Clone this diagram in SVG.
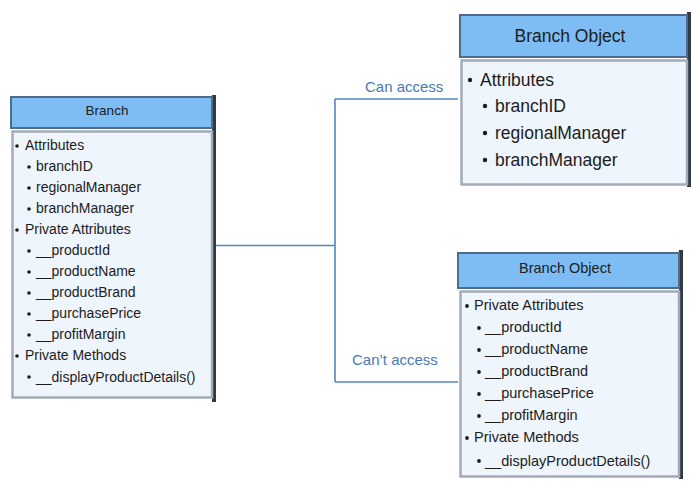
<svg xmlns="http://www.w3.org/2000/svg" width="700" height="496" viewBox="0 0 700 496">
<style>
.hd{fill:#7dbdf4;stroke:#506b8a;stroke-width:2}
.bd{fill:#eef5fc;stroke:#a3acb6;stroke-width:2.5}
.sh{fill:#2f3a45}
text{font-family:"Liberation Sans",Arial,sans-serif;fill:#1c1c1c}
.t{text-anchor:middle}
.lb{fill:#4a7ab5;font-size:15px}
.b{fill:#1c1c1c}
.c{fill:none;stroke:#4f86c6;stroke-width:1.6}
</style>
<rect width="700" height="496" fill="#ffffff"/>
<g id="connectors">
<path class="c" d="M215,245.5 H335 M335,99 V382 M335,99 H458 M335,382 H458"/>
<text class="lb" x="365" y="92">Can access</text>
<text class="lb" x="352" y="365">Can’t access</text>
</g>
<g id="branch" font-size="14">
<rect class="sh" x="212" y="95" width="4" height="307"/>
<rect class="hd" x="11" y="97" width="201" height="31"/>
<rect class="bd" x="12.5" y="131.5" width="199.5" height="266"/>
<text class="t" x="107" y="115" style="font-size:13.5px">Branch</text>
<g class="b">
<circle cx="17" cy="146" r="1.8"/><circle cx="29" cy="167" r="1.8"/><circle cx="29" cy="188" r="1.8"/><circle cx="29" cy="209" r="1.8"/>
<circle cx="17" cy="230" r="1.8"/><circle cx="29" cy="251" r="1.8"/><circle cx="29" cy="272" r="1.8"/><circle cx="29" cy="293" r="1.8"/>
<circle cx="29" cy="314" r="1.8"/><circle cx="29" cy="335" r="1.8"/><circle cx="17" cy="356" r="1.8"/><circle cx="29" cy="377" r="1.8"/>
</g>
<text x="25" y="150">Attributes</text>
<text x="36" y="171">branchID</text>
<text x="36" y="192">regionalManager</text>
<text x="36" y="213">branchManager</text>
<text x="25" y="234">Private Attributes</text>
<text x="36" y="255">__productId</text>
<text x="36" y="276">__productName</text>
<text x="36" y="297">__productBrand</text>
<text x="36" y="318">__purchasePrice</text>
<text x="36" y="339">__profitMargin</text>
<text x="25" y="360">Private Methods</text>
<text x="36" y="382">__displayProductDetails()</text>
</g>
<g id="branch-object-public" font-size="17.5">
<rect class="sh" x="687" y="12" width="4" height="175"/>
<rect class="hd" x="460" y="15" width="227" height="42"/>
<rect class="bd" x="461.5" y="60.5" width="225.5" height="124"/>
<text class="t" x="570" y="42">Branch Object</text>
<g class="b">
<circle cx="470" cy="80" r="2.2"/><circle cx="485" cy="106" r="2.2"/><circle cx="485" cy="133" r="2.2"/><circle cx="485" cy="160" r="2.2"/>
</g>
<text x="480" y="86">Attributes</text>
<text x="495" y="112">branchID</text>
<text x="495" y="139">regionalManager</text>
<text x="495" y="166">branchManager</text>
</g>
<g id="branch-object-private" font-size="14.5">
<rect class="sh" x="679" y="250" width="4" height="229"/>
<rect class="hd" x="458" y="253" width="221" height="35"/>
<rect class="bd" x="460.5" y="291.5" width="218.5" height="185"/>
<text class="t" x="565" y="273">Branch Object</text>
<g class="b">
<circle cx="467" cy="306" r="1.9"/><circle cx="479" cy="328" r="1.9"/><circle cx="479" cy="350" r="1.9"/><circle cx="479" cy="372" r="1.9"/>
<circle cx="479" cy="394" r="1.9"/><circle cx="479" cy="416" r="1.9"/><circle cx="467" cy="438" r="1.9"/><circle cx="479" cy="461" r="1.9"/>
</g>
<text x="474" y="310">Private Attributes</text>
<text x="485" y="332">__productId</text>
<text x="485" y="354">__productName</text>
<text x="485" y="376">__productBrand</text>
<text x="485" y="398">__purchasePrice</text>
<text x="485" y="420">__profitMargin</text>
<text x="474" y="442">Private Methods</text>
<text x="485" y="466">__displayProductDetails()</text>
</g>
</svg>
